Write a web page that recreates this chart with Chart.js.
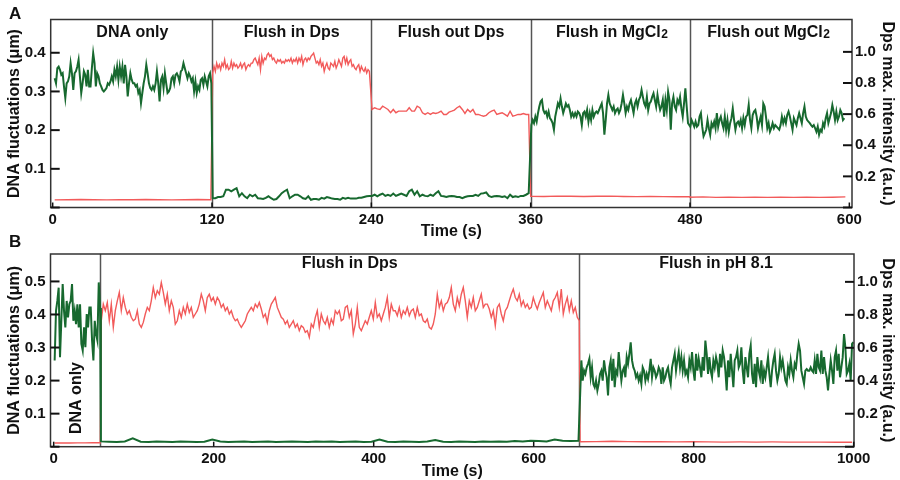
<!DOCTYPE html>
<html>
<head>
<meta charset="utf-8">
<script src="https://cdn.jsdelivr.net/npm/chart.js@4.4.0/dist/chart.umd.min.js"></script>
<style>
  body { margin: 0; background: #fff; }
  #wrap { position: relative; width: 900px; height: 480px; }
  canvas { position: absolute; left: 0; }
  .tag { position: absolute; font: bold 17px 'Liberation Sans', Arial, sans-serif; line-height: 1; color: #111; }
</style>
</head>
<body>
<div id="wrap">
  <canvas id="chartA" width="900" height="240" style="top:0"></canvas>
  <canvas id="chartB" width="900" height="240" style="top:240px"></canvas>
  <div class="tag" style="left:9px;top:5px">A</div>
  <div class="tag" style="left:9px;top:233px">B</div>
</div>
<script>
// ---- panel A : ticks ----
const xTicksA = [0, 120, 240, 360, 480, 600];
const yTicksA = [0, 0.1, 0.2, 0.3, 0.4];
const y2TicksA = [0, 0.2, 0.4, 0.6, 0.8, 1.0];
const dividersA = [120, 240, 360, 480];

// ---- panel A : DNA fluctuations (green, left axis) ----
const aGreenDna = [ // t = 1.5 .. 119.5, 1 s
  0.334,0.321,0.360,0.364,0.356,0.343,0.347,0.313,0.283,0.321,
  0.326,0.339,0.373,0.347,0.304,0.347,0.352,0.364,0.382,0.339,
  0.296,0.321,0.352,0.343,0.313,0.356,0.313,0.313,0.360,0.399,
  0.373,0.313,0.347,0.339,0.321,0.313,0.304,0.300,0.304,0.309,
  0.321,0.317,0.326,0.339,0.326,0.356,0.339,0.364,0.330,0.364,
  0.339,0.364,0.321,0.369,0.339,0.287,0.321,0.347,0.330,0.321,
  0.321,0.313,0.317,0.296,0.304,0.270,0.296,0.321,0.339,0.369,
  0.347,0.321,0.309,0.304,0.313,0.304,0.321,0.352,0.321,0.274,
  0.330,0.339,0.309,0.347,0.321,0.296,0.300,0.309,0.334,0.339,
  0.321,0.343,0.347,0.339,0.326,0.352,0.356,0.373,0.360,0.347,
  0.334,0.347,0.339,0.326,0.334,0.300,0.326,0.296,0.313,0.304,
  0.330,0.334,0.317,0.339,0.326,0.313,0.339,0.347,0.321];
const aGreenDpsIn = [ // t = 120.5 .. 238.5, 2 s
  0.024,0.024,0.027,0.027,0.029,0.046,0.046,0.042,0.046,0.050,
  0.029,0.037,0.029,0.024,0.033,0.029,0.033,0.024,0.023,0.022,
  0.025,0.029,0.024,0.020,0.022,0.029,0.037,0.042,0.046,0.024,
  0.029,0.033,0.033,0.029,0.024,0.022,0.029,0.020,0.022,0.022,
  0.020,0.025,0.023,0.027,0.025,0.023,0.022,0.022,0.020,0.025,
  0.023,0.025,0.023,0.023,0.023,0.025,0.025,0.027,0.029,0.030];
const aGreenDpsOut = [ // t = 240.5 .. 358.5, 2 s
  0.030,0.033,0.029,0.033,0.036,0.030,0.033,0.030,0.036,0.030,
  0.033,0.036,0.033,0.030,0.042,0.046,0.033,0.042,0.029,0.033,
  0.030,0.029,0.033,0.030,0.037,0.042,0.030,0.029,0.027,0.029,
  0.030,0.029,0.027,0.027,0.024,0.027,0.029,0.030,0.030,0.033,
  0.030,0.036,0.037,0.039,0.030,0.027,0.029,0.030,0.029,0.027,
  0.029,0.024,0.033,0.027,0.029,0.027,0.030,0.030,0.033,0.037];
const aGreenMgIn = [ // t = 360.5 .. 478.5, 1 s
  0.213,0.226,0.218,0.235,0.222,0.244,0.261,0.274,0.278,0.252,
  0.244,0.248,0.235,0.248,0.231,0.226,0.218,0.201,0.235,0.252,
  0.269,0.261,0.282,0.261,0.244,0.256,0.269,0.261,0.265,0.252,
  0.235,0.244,0.235,0.244,0.235,0.248,0.244,0.235,0.213,0.244,
  0.248,0.235,0.252,0.222,0.244,0.226,0.252,0.235,0.244,0.248,
  0.244,0.252,0.261,0.269,0.244,0.188,0.226,0.269,0.291,0.269,
  0.261,0.252,0.261,0.244,0.252,0.256,0.244,0.252,0.269,0.291,
  0.269,0.244,0.261,0.252,0.269,0.278,0.261,0.244,0.269,0.278,
  0.261,0.278,0.286,0.304,0.286,0.269,0.261,0.286,0.252,0.269,
  0.274,0.286,0.295,0.278,0.261,0.291,0.269,0.252,0.261,0.278,
  0.235,0.278,0.252,0.299,0.278,0.201,0.269,0.286,0.261,0.252,
  0.278,0.269,0.286,0.256,0.235,0.269,0.308,0.261,0.218];
const aGreenMgOut = [ // t = 480.2 .. 596.2, 1 s
  0.209,0.226,0.218,0.209,0.222,0.209,0.213,0.235,0.244,0.209,
  0.184,0.192,0.201,0.226,0.205,0.188,0.218,0.209,0.222,0.205,
  0.244,0.209,0.226,0.235,0.218,0.205,0.235,0.201,0.226,0.196,
  0.218,0.231,0.256,0.226,0.201,0.218,0.222,0.213,0.226,0.205,
  0.231,0.213,0.235,0.239,0.265,0.226,0.205,0.239,0.248,0.252,
  0.235,0.205,0.222,0.235,0.213,0.269,0.261,0.235,0.205,0.218,
  0.196,0.205,0.218,0.205,0.213,0.209,0.205,0.201,0.213,0.235,
  0.218,0.231,0.218,0.239,0.248,0.235,0.218,0.201,0.231,0.222,
  0.213,0.231,0.244,0.231,0.218,0.244,0.261,0.235,0.226,0.222,
  0.218,0.213,0.209,0.213,0.205,0.196,0.209,0.188,0.201,0.196,
  0.218,0.209,0.231,0.244,0.218,0.231,0.244,0.265,0.248,0.226,
  0.248,0.226,0.235,0.252,0.244,0.226,0.231];

// ---- panel A : Dps max. intensity (red, right axis) ----
const aRedDna = [0.049,0.050,0.051,0.050,0.049,0.050,0.050,0.051,0.050,0.049,0.050,0.051,0.050]; // t = 1.5 .. 119.1
const aRedDpsIn = [ // t = 120.5 .. 238.5, 1 s
  0.864,0.907,0.875,0.928,0.896,0.918,0.886,0.928,0.907,0.950,
  0.896,0.918,0.886,0.896,0.939,0.896,0.928,0.907,0.918,0.896,
  0.907,0.928,0.896,0.918,0.928,0.886,0.907,0.918,0.907,0.928,
  0.928,0.950,0.960,0.939,0.918,0.960,0.886,0.971,0.928,0.960,
  0.950,0.981,0.992,0.971,0.981,0.950,0.960,0.939,0.928,0.950,
  0.939,0.950,0.928,0.939,0.928,0.950,0.939,0.950,0.939,0.960,
  0.928,0.950,0.939,0.960,0.928,0.960,0.939,0.971,0.918,0.950,
  0.960,0.939,0.960,0.950,0.971,0.981,0.992,0.960,0.928,0.939,
  0.918,0.950,0.907,0.928,0.875,0.907,0.928,0.896,0.886,0.928,
  0.918,0.907,0.939,0.896,0.918,0.950,0.928,0.907,0.960,0.971,
  0.928,0.960,0.918,0.939,0.950,0.907,0.918,0.896,0.886,0.907,
  0.918,0.875,0.907,0.886,0.875,0.896,0.864,0.886,0.875];
const aRedDpsOut = [ // t = 240.5 .. 358.5, 2 s
  0.630,0.641,0.634,0.630,0.651,0.641,0.630,0.609,0.630,0.609,
  0.619,0.619,0.619,0.619,0.641,0.619,0.619,0.651,0.641,0.609,
  0.598,0.609,0.598,0.609,0.604,0.609,0.619,0.598,0.598,0.613,
  0.619,0.626,0.641,0.651,0.630,0.604,0.630,0.613,0.630,0.598,
  0.598,0.592,0.587,0.592,0.609,0.619,0.626,0.598,0.604,0.609,
  0.598,0.587,0.619,0.587,0.592,0.598,0.598,0.604,0.598,0.598];
const aRedMgIn = [0.072,0.071,0.073,0.072,0.071,0.072,0.073,0.071,0.070,0.071,0.070,0.069,0.070]; // t = 360 .. 480
const aRedMgOut = [0.066,0.068,0.065,0.066,0.065,0.066,0.065,0.066,0.065,0.066,0.065,0.066,0.068]; // t = 480 .. 597

// ---- panel B : ticks ----
const xTicksB = [0, 200, 400, 600, 800, 1000];
const yTicksB = [0, 0.1, 0.2, 0.3, 0.4, 0.5];
const y2TicksB = [0, 0.2, 0.4, 0.6, 0.8, 1.0];
const dividersB = [58, 657];

// ---- panel B : DNA fluctuations (green, left axis) ----
const bGreenDna = [ // t = 1.2 .. 58, 1.67 s
  0.261,0.411,0.441,0.481,0.271,0.381,0.492,0.411,0.361,0.441,
  0.391,0.431,0.441,0.492,0.381,0.411,0.371,0.431,0.361,0.431,
  0.311,0.291,0.361,0.301,0.401,0.361,0.421,0.421,0.321,0.261,
  0.381,0.341,0.321,0.497,0.420];
const bGreenDps = [ // t = 59 .. 656, ~10 s
  0.016,0.015,0.014,0.016,0.025,0.015,0.014,0.016,0.015,0.014,
  0.016,0.015,0.014,0.015,0.022,0.016,0.014,0.015,0.016,0.014,
  0.015,0.016,0.014,0.015,0.016,0.015,0.014,0.016,0.015,0.016,
  0.014,0.015,0.016,0.014,0.015,0.022,0.015,0.014,0.016,0.015,
  0.014,0.016,0.020,0.015,0.014,0.016,0.015,0.014,0.016,0.015,
  0.016,0.015,0.017,0.016,0.018,0.017,0.016,0.022,0.018,0.017,
  0.018];
const bGreenPh = [ // t = 659.6 .. 999.6, 1.667 s
  0.261,0.200,0.230,0.220,0.240,0.251,0.266,0.210,0.240,0.190,
  0.180,0.200,0.170,0.190,0.220,0.230,0.200,0.261,0.230,0.210,
  0.155,0.240,0.261,0.200,0.266,0.180,0.230,0.220,0.286,0.240,
  0.200,0.230,0.240,0.210,0.271,0.251,0.281,0.316,0.261,0.240,
  0.230,0.210,0.220,0.200,0.215,0.190,0.240,0.230,0.200,0.220,
  0.205,0.230,0.266,0.210,0.240,0.230,0.210,0.220,0.240,0.230,
  0.190,0.240,0.200,0.210,0.230,0.240,0.210,0.190,0.240,0.261,
  0.281,0.230,0.261,0.286,0.240,0.271,0.230,0.261,0.220,0.230,
  0.210,0.261,0.240,0.286,0.230,0.200,0.281,0.230,0.266,0.240,
  0.210,0.271,0.230,0.321,0.281,0.220,0.271,0.230,0.210,0.261,
  0.240,0.271,0.251,0.210,0.281,0.240,0.291,0.271,0.230,0.170,
  0.261,0.210,0.281,0.230,0.180,0.261,0.271,0.291,0.240,0.251,
  0.301,0.230,0.190,0.271,0.240,0.210,0.281,0.306,0.220,0.190,
  0.251,0.180,0.271,0.230,0.210,0.261,0.190,0.230,0.210,0.240,
  0.271,0.220,0.180,0.230,0.261,0.281,0.230,0.200,0.220,0.271,
  0.240,0.261,0.230,0.200,0.190,0.240,0.220,0.261,0.230,0.210,
  0.251,0.240,0.281,0.311,0.291,0.230,0.210,0.190,0.230,0.235,
  0.230,0.230,0.240,0.230,0.225,0.261,0.220,0.281,0.240,0.230,
  0.291,0.220,0.271,0.230,0.210,0.170,0.220,0.261,0.230,0.190,
  0.271,0.291,0.230,0.281,0.210,0.240,0.271,0.341,0.301,0.220,
  0.230,0.251,0.200,0.311,0.316];

// ---- panel B : Dps max. intensity (red, right axis) ----
const bRedDna = [0.022,0.023,0.022,0.023,0.023,0.024,0.024]; // t = 1.2 .. 58.2
const bRedDps = [ // t = 59.5 .. 657, 2.5 s
  0.764,0.865,0.825,0.875,0.764,0.865,0.724,0.825,0.885,0.936,
  0.825,0.905,0.845,0.805,0.825,0.785,0.764,0.774,0.825,0.744,
  0.724,0.754,0.805,0.845,0.825,0.885,0.966,0.905,0.946,0.925,
  0.996,0.936,0.865,0.925,0.825,0.885,0.845,0.744,0.764,0.825,
  0.785,0.845,0.805,0.865,0.815,0.845,0.785,0.805,0.825,0.865,
  0.925,0.885,0.825,0.905,0.925,0.885,0.905,0.865,0.905,0.885,
  0.845,0.865,0.825,0.845,0.805,0.825,0.785,0.764,0.774,0.744,
  0.724,0.744,0.764,0.805,0.825,0.845,0.825,0.865,0.845,0.875,
  0.835,0.785,0.805,0.754,0.825,0.865,0.885,0.905,0.845,0.815,
  0.785,0.774,0.744,0.764,0.724,0.744,0.764,0.724,0.744,0.704,
  0.734,0.724,0.694,0.704,0.664,0.744,0.724,0.785,0.825,
  0.724,0.805,0.764,0.744,0.785,0.724,0.774,0.744,0.825,0.805,
  0.825,0.764,0.774,0.845,0.855,0.785,0.825,0.684,0.744,0.845,
  0.724,0.704,0.734,0.764,0.744,0.785,0.825,0.774,0.875,0.785,
  0.805,0.764,0.805,0.845,0.905,0.785,0.865,0.825,0.825,0.795,
  0.845,0.785,0.825,0.805,0.845,0.795,0.825,0.835,0.785,0.845,
  0.795,0.805,0.764,0.754,0.774,0.724,0.714,0.744,0.805,0.925,
  0.845,0.885,0.825,0.865,0.875,0.905,0.966,0.865,0.825,0.905,
  0.855,0.925,0.966,0.885,0.785,0.885,0.845,0.905,0.825,0.845,
  0.885,0.925,0.845,0.865,0.865,0.835,0.785,0.825,0.734,0.845,
  0.865,0.805,0.764,0.825,0.845,0.885,0.925,0.956,0.905,0.885,
  0.925,0.855,0.885,0.845,0.865,0.835,0.845,0.905,0.865,0.835,
  0.875,0.905,0.936,0.845,0.885,0.855,0.825,0.885,0.905,0.936,
  0.845,0.956,0.805,0.865,0.905,0.825,0.885,0.815,0.845,0.785,
  0.764];
const bRedPh = [0.030,0.031,0.033,0.031,0.030,0.030,0.029,0.030,0.029,0.028,0.029,0.028,0.029,0.028,0.028,0.028,0.027,0.027]; // t = 658 .. 998

const FONT = "'Liberation Sans', Arial, sans-serif";
const GREEN = '#17692f';
const RED = '#f25a5a';

function seg(t0, dt, vals) {
  return vals.map((v, i) => ({ x: t0 + i * dt, y: v }));
}

// frame, inward ticks, condition dividers and labels
const framePlugin = {
  id: 'frame',
  beforeDatasetsDraw(chart, args, opts) {
    const { ctx, chartArea: a, scales } = chart;
    ctx.save();
    ctx.strokeStyle = '#555';
    ctx.lineWidth = 1.5;
    opts.dividers.forEach(t => {
      const x = Math.round(scales.x.getPixelForValue(t)) + 0.5;
      ctx.beginPath(); ctx.moveTo(x, a.top); ctx.lineTo(x, a.bottom); ctx.stroke();
    });
    ctx.restore();
  },
  afterDatasetsDraw(chart, args, opts) {
    const { ctx, chartArea: a, scales } = chart;
    ctx.save();
    ctx.strokeStyle = '#333';
    ctx.lineWidth = 1.5;
    ctx.strokeRect(a.left, a.top, a.width, a.height);
    ctx.strokeStyle = '#111';
    ctx.lineWidth = 2;
    scales.y.ticks.forEach(t => {
      const y = scales.y.getPixelForValue(t.value);
      ctx.beginPath(); ctx.moveTo(a.left, y); ctx.lineTo(a.left + 9, y); ctx.stroke();
    });
    scales.y1.ticks.forEach(t => {
      const y = scales.y1.getPixelForValue(t.value);
      ctx.beginPath(); ctx.moveTo(a.right - 9, y); ctx.lineTo(a.right, y); ctx.stroke();
    });
    ctx.lineWidth = 1.5;
    scales.x.ticks.forEach(t => {
      const x = scales.x.getPixelForValue(t.value);
      ctx.beginPath(); ctx.moveTo(x, a.bottom); ctx.lineTo(x, a.bottom - 5); ctx.stroke();
    });

    ctx.fillStyle = '#111';
    ctx.textBaseline = 'middle';
    opts.labels.forEach(l => {
      const x = scales.x.getPixelForValue(l.t);
      const y = a.top + l.dy;
      ctx.font = 'bold 16px ' + FONT;
      const w1 = ctx.measureText(l.text).width;
      let w2 = 0;
      if (l.sub) { ctx.font = 'bold 12px ' + FONT; w2 = ctx.measureText(l.sub).width; }
      ctx.save();
      ctx.translate(x, y);
      if (l.rotate) ctx.rotate(-Math.PI / 2);
      ctx.textAlign = 'left';
      ctx.font = 'bold 16px ' + FONT;
      ctx.fillText(l.text, -(w1 + w2) / 2, 0);
      if (l.sub) {
        ctx.font = 'bold 12px ' + FONT;
        ctx.fillText(l.sub, -(w1 + w2) / 2 + w1 + 0.5, 2);
      }
      ctx.restore();
    });
    ctx.restore();
  }
};

function makePanel(id, p) {
  const tickFont = { family: FONT, size: 15, weight: 'bold' };
  const titleFont = { family: FONT, size: 16, weight: 'bold' };
  return new Chart(document.getElementById(id), {
    type: 'line',
    data: {
      datasets: [
        { data: p.green, yAxisID: 'y', borderColor: GREEN, borderWidth: 2, pointRadius: 0, tension: 0 },
        { data: p.red, yAxisID: 'y1', borderColor: RED, borderWidth: 1.4, pointRadius: 0, tension: 0 }
      ]
    },
    options: {
      responsive: false,
      animation: false,
      devicePixelRatio: 1,
      layout: { padding: { top: p.top, left: 0, right: 0, bottom: 0 } },
      plugins: {
        legend: { display: false },
        tooltip: { enabled: false },
        frame: { dividers: p.dividers, labels: p.labels }
      },
      scales: {
        x: {
          type: 'linear', min: p.xMin, max: p.xMax,
          afterBuildTicks: s => { s.ticks = p.xTicks.map(v => ({ value: v })); },
          afterFit: s => { s.height = p.xHeight; },
          grid: { display: false, drawTicks: false },
          border: { display: false },
          ticks: { font: tickFont, color: '#111', padding: 3, maxRotation: 0, autoSkip: false, callback: v => String(v) },
          title: { display: true, text: 'Time (s)', font: { ...titleFont, lineHeight: 1 }, color: '#111', padding: { top: 0, bottom: 0 } }
        },
        y: {
          type: 'linear', position: 'left', min: 0, max: p.yMax,
          afterBuildTicks: s => { s.ticks = p.yTicks.map(v => ({ value: v })); },
          afterFit: s => { s.width = p.leftW; },
          grid: { display: false, drawTicks: false },
          border: { display: false },
          ticks: { font: tickFont, color: '#111', padding: 5, callback: v => v === 0 ? '' : v.toFixed(1) },
          title: { display: true, text: 'DNA fluctuations (μm)', font: titleFont, color: '#111', padding: { top: 5, bottom: 0 } }
        },
        y1: {
          type: 'linear', position: 'right', min: 0, max: p.y2Max,
          afterBuildTicks: s => { s.ticks = p.y2Ticks.map(v => ({ value: v })); },
          afterFit: s => { s.width = p.rightW; },
          grid: { display: false, drawTicks: false },
          border: { display: false },
          ticks: { font: tickFont, color: '#111', padding: 3, callback: v => v === 0 ? '' : v.toFixed(1) },
          title: { display: true, text: 'Dps max. intensity (a.u.)', font: titleFont, color: '#111', padding: { top: 3, bottom: 0 } }
        }
      }
    },
    plugins: [framePlugin]
  });
}

makePanel('chartA', {
  green: [].concat(seg(1.5, 1, aGreenDna), seg(120.5, 2, aGreenDpsIn), seg(240.5, 2, aGreenDpsOut),
                   seg(360.5, 1, aGreenMgIn), seg(480.2, 1, aGreenMgOut)),
  red: [].concat(seg(1.5, 9.8, aRedDna), seg(120.5, 1, aRedDpsIn), seg(240.5, 2, aRedDpsOut),
                 seg(360, 10, aRedMgIn), seg(480, 9.75, aRedMgOut)),
  xMin: -1.5, xMax: 602, xTicks: xTicksA,
  yMax: 0.486, yTicks: yTicksA, y2Max: 1.208, y2Ticks: y2TicksA,
  top: 19.5, xHeight: 32.5, leftW: 50.7, rightW: 48,
  dividers: dividersA,
  labels: [
    { text: 'DNA only', t: 60, dy: 13.5 },
    { text: 'Flush in Dps', t: 180, dy: 13.5 },
    { text: 'Flush out Dps', t: 300, dy: 13.5 },
    { text: 'Flush in MgCl', sub: '2', t: 421, dy: 13.5 },
    { text: 'Flush out MgCl', sub: '2', t: 539, dy: 13.5 }
  ]
});

makePanel('chartB', {
  green: [].concat(seg(1.2, 1.67, bGreenDna), seg(59, 9.95, bGreenDps), seg(659.6, 1.6667, bGreenPh)),
  red: [].concat(seg(1.2, 9.5, bRedDna), seg(59.5, 2.5, bRedDps), seg(658, 20, bRedPh)),
  xMin: -4, xMax: 1000.4, xTicks: xTicksB,
  yMax: 0.583, yTicks: yTicksB, y2Max: 1.169, y2Ticks: y2TicksB,
  top: 13, xHeight: 33.3, leftW: 50.5, rightW: 46,
  dividers: dividersB,
  labels: [
    { text: 'Flush in Dps', t: 370, dy: 10 },
    { text: 'Flush in pH 8.1', t: 828, dy: 10 },
    { text: 'DNA only', t: 29, dy: 144, rotate: true }
  ]
});
</script>
</body>
</html>
